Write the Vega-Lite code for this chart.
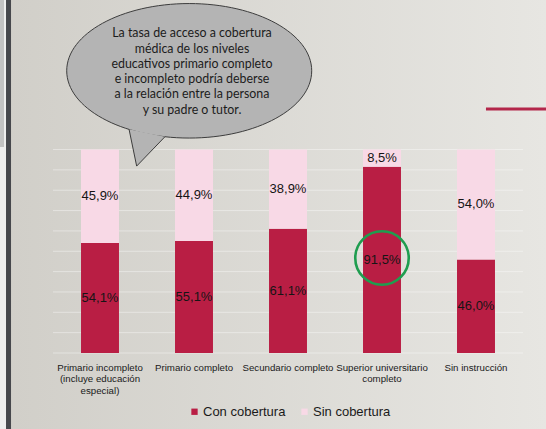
{
  "$schema": "https://vega.github.io/schema/vega-lite/v6.json",
  "width": 470,
  "height": 353,
  "autosize": {"type": "none"},
  "padding": {"left": 53, "top": 0, "right": 23, "bottom": 76},
  "background": "#dddbd6",
  "config": {
    "view": {"stroke": null},
    "font": "Liberation Sans",
    "locale": {"number": {"decimal": ",", "thousands": ".", "grouping": [3], "currency": ["", " €"]}}
  },
  "datasets": {
    "cobertura": [
      {"nivel": "Primario incompleto (incluye educación especial)", "cobertura": "Con cobertura", "pct": 0.541},
      {"nivel": "Primario incompleto (incluye educación especial)", "cobertura": "Sin cobertura", "pct": 0.459},
      {"nivel": "Primario completo", "cobertura": "Con cobertura", "pct": 0.551},
      {"nivel": "Primario completo", "cobertura": "Sin cobertura", "pct": 0.449},
      {"nivel": "Secundario completo", "cobertura": "Con cobertura", "pct": 0.611},
      {"nivel": "Secundario completo", "cobertura": "Sin cobertura", "pct": 0.389},
      {"nivel": "Superior universitario completo", "cobertura": "Con cobertura", "pct": 0.915},
      {"nivel": "Superior universitario completo", "cobertura": "Sin cobertura", "pct": 0.085},
      {"nivel": "Sin instrucción", "cobertura": "Con cobertura", "pct": 0.46},
      {"nivel": "Sin instrucción", "cobertura": "Sin cobertura", "pct": 0.54}
    ],
    "grid": [
      {"g": 0}, {"g": 0.1}, {"g": 0.2}, {"g": 0.3}, {"g": 0.4}, {"g": 0.5},
      {"g": 0.6}, {"g": 0.7}, {"g": 0.8}, {"g": 0.9}, {"g": 1}
    ]
  },
  "layer": [
    {
      "data": {"values": [{}]},
      "mark": {
        "type": "point",
        "shape": "M -1 -0.802 L 1 -0.802 L 1 0.802 L -1 0.802 Z",
        "size": 286225,
        "filled": true,
        "opacity": 1,
        "strokeWidth": 0,
        "fill": {
          "gradient": "linear", "x1": 0, "y1": 0, "x2": 1, "y2": 0,
          "stops": [{"offset": 0, "color": "#d1cfc9"}, {"offset": 1, "color": "#e7e6e2"}]
        }
      },
      "encoding": {
        "x": {"datum": "Sin instrucción", "type": "nominal", "bandPosition": -4.7},
        "y": {"datum": 0.6807, "type": "quantitative", "axis": null}
      }
    },
    {
      "data": {"values": [{}]},
      "mark": {"type": "point", "shape": "M 0 -1 L 0 1", "size": 193600, "filled": false, "opacity": 1, "stroke": "#eeeeee", "strokeWidth": 6, "strokeCap": "butt"},
      "encoding": {
        "x": {"datum": "Primario incompleto (incluye educación especial)", "type": "nominal", "bandPosition": -2.054},
        "y": {"datum": 0.6807, "type": "quantitative", "axis": null}
      }
    },
    {
      "data": {"values": [{}]},
      "mark": {"type": "point", "shape": "M 0 -1 L 0 1", "size": 21609, "filled": false, "opacity": 1, "stroke": "#c2c2c2", "strokeWidth": 4, "strokeCap": "butt"},
      "encoding": {
        "x": {"datum": "Primario incompleto (incluye educación especial)", "type": "nominal", "bandPosition": -2.08},
        "y": {"datum": 1.3737, "type": "quantitative", "axis": null}
      }
    },
    {
      "data": {"values": [{}]},
      "mark": {"type": "point", "shape": "M 0 -1 L 0 1", "size": 193600, "filled": false, "opacity": 1, "stroke": "#46474c", "strokeWidth": 5, "strokeCap": "butt"},
      "encoding": {
        "x": {"datum": "Primario incompleto (incluye educación especial)", "type": "nominal", "bandPosition": -1.909},
        "y": {"datum": 0.6807, "type": "quantitative", "axis": null}
      }
    },
    {
      "data": {"values": [{}]},
      "mark": {"type": "point", "shape": "M -1 0 L 1 0", "size": 3844, "filled": false, "opacity": 1, "stroke": "#b3264a", "strokeWidth": 2.8, "strokeCap": "butt"},
      "encoding": {
        "x": {"datum": "Sin instrucción", "type": "nominal", "bandPosition": 1.579},
        "y": {"datum": 1.1993, "type": "quantitative", "axis": null}
      }
    },
    {
      "data": {"name": "grid"},
      "mark": {"type": "rule", "color": "#ffffff", "opacity": 0.4, "strokeWidth": 1},
      "encoding": {
        "y": {"field": "g", "type": "quantitative", "axis": null}
      }
    },
    {
      "data": {"name": "cobertura"},
      "transform": [
        {"stack": "pct", "groupby": ["nivel"], "sort": [{"field": "cobertura", "order": "ascending"}], "as": ["v0", "v1"]}
      ],
      "mark": {"type": "bar"},
      "encoding": {
        "x": {
          "field": "nivel",
          "type": "nominal",
          "scale": {
            "type": "band",
            "domain": ["Primario incompleto (incluye educación especial)", "Primario completo", "Secundario completo", "Superior universitario completo", "Sin instrucción"],
            "paddingInner": 0.596,
            "paddingOuter": 0.298
          },
          "axis": {
            "title": null,
            "zindex": 2,
            "domain": false,
            "ticks": false,
            "tickSize": 0,
            "grid": false,
            "labelAngle": 0,
            "labelAlign": "center",
            "labelFont": "Liberation Sans",
            "labelFontSize": 9.7,
            "labelColor": "#1a1a1a",
            "labelPadding": 9,
            "labelLineHeight": 11.6,
            "labelOverlap": false,
            "labelBaseline": "top",
            "labelLimit": 300,
            "labelExpr": "datum.value === 'Primario incompleto (incluye educación especial)' ? ['Primario incompleto', '(incluye educación', 'especial)'] : datum.value === 'Superior universitario completo' ? ['Superior universitario', 'completo'] : datum.label"
          }
        },
        "y": {"field": "v0", "type": "quantitative", "scale": {"domain": [0, 1.735], "nice": false, "zero": false}, "axis": null},
        "y2": {"field": "v1"},
        "color": {
          "field": "cobertura",
          "type": "nominal",
          "scale": {"domain": ["Con cobertura", "Sin cobertura"], "range": ["#b91e44", "#f8d9e6"]},
          "legend": {
            "orient": "none",
            "legendX": 135,
            "legendY": 405,
            "direction": "horizontal",
            "title": null,
            "symbolType": "square",
            "symbolSize": 40,
            "symbolStrokeWidth": 0,
            "symbolOpacity": 1,
            "labelFont": "Liberation Sans",
            "labelFontSize": 13,
            "labelColor": "#1a1a1a",
            "labelOffset": 2,
            "columnPadding": 12,
            "padding": 0
          }
        }
      }
    },
    {
      "data": {"name": "cobertura"},
      "transform": [
        {"stack": "pct", "groupby": ["nivel"], "sort": [{"field": "cobertura", "order": "ascending"}], "as": ["v0", "v1"]},
        {"fold": ["v0", "v1"], "as": ["extremo", "valor"]}
      ],
      "mark": {"type": "text", "font": "Liberation Sans", "fontSize": 13, "color": "#151515", "baseline": "middle", "align": "center"},
      "encoding": {
        "x": {"field": "nivel", "type": "nominal", "title": null},
        "y": {"aggregate": "mean", "field": "valor", "type": "quantitative", "axis": null},
        "text": {"field": "pct", "type": "quantitative", "format": ".1%"},
        "detail": {"field": "cobertura"}
      }
    },
    {
      "data": {"values": [{}]},
      "mark": {
        "type": "point",
        "shape": "M 1 0 C 1 0.3032 0.5523 0.549 0 0.549 C -0.5523 0.549 -1 0.3032 -1 0 C -1 -0.3032 -0.5523 -0.549 0 -0.549 C 0.5523 -0.549 1 -0.3032 1 0 Z",
        "size": 60025,
        "filled": true,
        "opacity": 1,
        "fill": "#b4b4b4",
        "stroke": "#3d3d3d",
        "strokeWidth": 1
      },
      "encoding": {
        "x": {"datum": "Primario completo", "type": "nominal", "bandPosition": 0.374},
        "y": {"datum": 1.387, "type": "quantitative", "axis": null}
      }
    },
    {
      "data": {"values": [{}]},
      "mark": {
        "type": "point",
        "shape": "M -0.491 0.478 L -0.429 0.778 L -0.198 0.538",
        "size": 60025,
        "filled": true,
        "opacity": 1,
        "fill": "#b4b4b4",
        "stroke": "#3d3d3d",
        "strokeWidth": 1,
        "strokeJoin": "miter"
      },
      "encoding": {
        "x": {"datum": "Primario completo", "type": "nominal", "bandPosition": 0.374},
        "y": {"datum": 1.387, "type": "quantitative", "axis": null}
      }
    },
    {
      "data": {"values": [{}]},
      "mark": {"type": "text", "font": "Lato", "fontSize": 12.4, "lineHeight": 15.3, "color": "#1c1c1c", "align": "center", "baseline": "middle"},
      "encoding": {
        "x": {"datum": "Primario completo", "type": "nominal", "bandPosition": 0.447},
        "y": {"datum": 1.5713, "type": "quantitative", "axis": null},
        "text": {"value": ["La tasa de acceso a cobertura", "médica de los niveles", "educativos primario completo", "e incompleto podría deberse", "a la relación entre la persona", "y su padre o tutor."]}
      }
    },
    {
      "data": {"values": [{}]},
      "mark": {"type": "point", "shape": "circle", "size": 2860, "filled": false, "opacity": 1, "stroke": "#1f9d4f", "strokeWidth": 2.6},
      "encoding": {
        "x": {"datum": "Superior universitario completo", "type": "nominal"},
        "y": {"datum": 0.467, "type": "quantitative", "axis": null}
      }
    }
  ]
}
